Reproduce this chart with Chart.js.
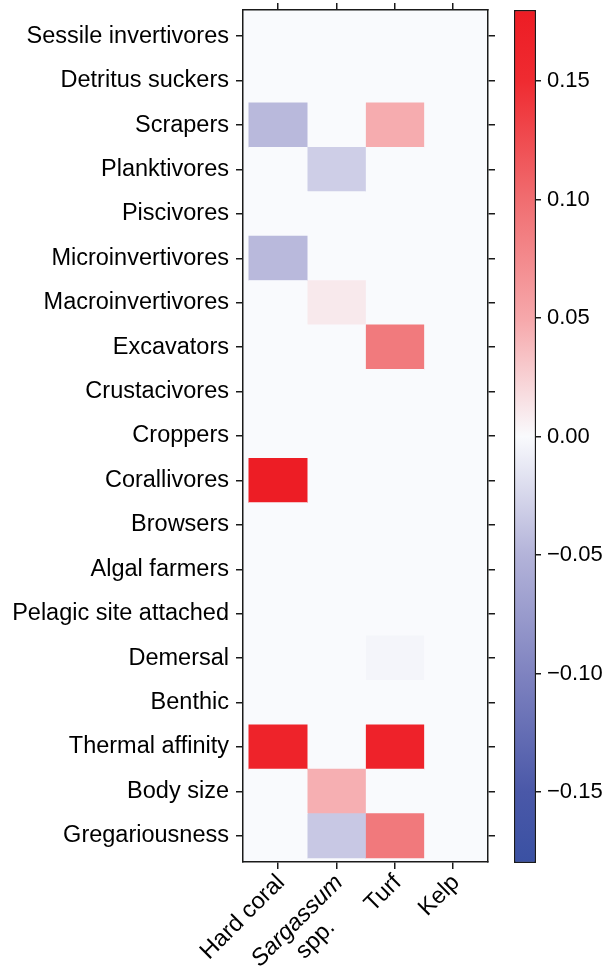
<!DOCTYPE html>
<html><head><meta charset="utf-8">
<script src="https://cdn.jsdelivr.net/npm/chart.js@4.4.1/dist/chart.umd.min.js"></script>
<style>
html,body{margin:0;padding:0;background:#fff;}
#wrap{position:relative;width:608px;height:968px;}
#wrap canvas{position:absolute;left:0;top:0;}
</style></head><body>
<div id="wrap"><canvas id="heat" width="608" height="968"></canvas><canvas id="cbar" width="608" height="968"></canvas></div>
<script>
// ---------- data ----------
const rowLabels = ['Sessile invertivores','Detritus suckers','Scrapers','Planktivores','Piscivores',
  'Microinvertivores','Macroinvertivores','Excavators','Crustacivores','Croppers','Corallivores',
  'Browsers','Algal farmers','Pelagic site attached','Demersal','Benthic','Thermal affinity',
  'Body size','Gregariousness'];
const columnLabels = [['Hard coral'], ['Sargassum','spp.'], ['Turf'], ['Kelp']];
const hardCoral = [0,0,-0.046,0,0,-0.046,0,0,0,0,0.178,0,0,0,0,0,0.165,0,0];
const sargassum = [0,0,0,-0.031,0,0,0.010,0,0,0,0,0,0,0,0,0,0,0.045,-0.035];
const turf      = [0,0,0.047,0,0,0,0,0.089,0,0,0,0,0,0,-0.0035,0,0.167,0,0.090];
const kelp      = [0,0,0,0,0,0,0,0,0,0,0,0,0,0,0,0,0,0,0];
const colorbarTicks = [-0.15,-0.10,-0.05,0,0.05,0.10,0.15];
const colorLimits = [-0.18, 0.18];

// ---------- style ----------
const FONT = '"Liberation Sans", Arial, Helvetica, sans-serif';
const FS = 23.5;
const FS_CB = 22;
const LH = 26;
const TEXT = '#000';
const FRAME = '#1a1a1a';
const italicFirstLine = [false, true, false, false];
const CMAP = [
  [-0.18,[58,81,163]],[-0.15,[74,88,168]],[-0.10,[127,131,192]],[-0.05,[179,179,217]],
  [0,[249,250,253]],[0.05,[246,167,170]],[0.10,[240,109,112]],[0.15,[239,43,49]],[0.18,[237,28,36]]
];
function colorFor(v){
  if (v <= CMAP[0][0]) return 'rgb('+CMAP[0][1].join(',')+')';
  for (let i=1;i<CMAP.length;i++){
    if (v <= CMAP[i][0]){
      const [v0,c0]=CMAP[i-1],[v1,c1]=CMAP[i];
      const t=(v-v0)/(v1-v0);
      return 'rgb('+c0.map((c,k)=>Math.round(c+(c1[k]-c)*t)).join(',')+')';
    }
  }
  return 'rgb('+CMAP[CMAP.length-1][1].join(',')+')';
}
function tickSetter(values){ return (scale)=>{ scale.ticks = values.map(v=>({value:v})); }; }
function fitter(prop, size){
  return (s)=>{ s[prop] = size; s.paddingTop = 0; s.paddingBottom = 0; s.paddingLeft = 0; s.paddingRight = 0; };
}
const gridOpts = {drawOnChartArea:false, drawTicks:true, tickLength:7, color:FRAME, lineWidth:1.5, offset:false};
const borderOpts = {display:true, color:FRAME, width:1.5};
const colCenters = columnLabels.map((_, i)=> i+0.5);
const rowIdx = rowLabels.map((_, i)=> i);
const columns = [hardCoral, sargassum, turf, kelp];

const bgPlugin = {
  id:'bg',
  beforeDraw(chart){
    const {ctx, chartArea:a} = chart;
    ctx.save(); ctx.fillStyle = colorFor(0);
    ctx.fillRect(a.left, a.top, a.right-a.left, a.bottom-a.top);
    ctx.restore();
  }
};
const xLabelPlugin = {
  id:'xLabels',
  afterDraw(chart){
    const ctx = chart.ctx, xs = chart.scales.x;
    const baseY = chart.chartArea.bottom + 17;
    columnLabels.forEach((lines, i) => {
      const px = xs.getPixelForValue(colCenters[i]);
      ctx.save();
      ctx.translate(px + 3, baseY);
      ctx.rotate(-Math.PI/4);
      ctx.textBaseline = 'middle'; ctx.fillStyle = TEXT; ctx.textAlign = 'center';
      const fonts = lines.map((t,j)=> (italicFirstLine[i] && j===0 ? 'italic ' : '') + FS + 'px ' + FONT);
      let W = 0;
      lines.forEach((t,j)=>{ ctx.font = fonts[j]; W = Math.max(W, ctx.measureText(t).width); });
      lines.forEach((t,j)=>{ ctx.font = fonts[j]; ctx.fillText(t, -W/2, j*LH); });
      ctx.restore();
    });
  }
};

new Chart(document.getElementById('heat'), {
  type:'bar',
  data:{
    datasets: columns.map((vals, c) => ({
      label: columnLabels[c].join(' '),
      data: vals.map((v, r) => ({y:r, x:[c, c+1]})),
      backgroundColor: vals.map(colorFor),
      borderWidth:0, barPercentage:1, categoryPercentage:1, grouped:false,
      xAxisID:'x', yAxisID:'y'
    }))
  },
  options:{
    indexAxis:'y', responsive:false, animation:false,
    layout:{padding:0},
    plugins:{legend:{display:false}, tooltip:{enabled:false}},
    scales:{
      x:{type:'linear', position:'bottom', offset:false, min:-0.1, max:4.1, afterBuildTicks:tickSetter(colCenters),
         afterFit:fitter('height',106), grid:gridOpts, border:borderOpts, ticks:{display:false}},
      x2:{type:'linear', position:'top', offset:false, min:-0.1, max:4.1, afterBuildTicks:tickSetter(colCenters),
         afterFit:fitter('height',10), grid:gridOpts, border:borderOpts, ticks:{display:false}},
      y:{type:'linear', position:'left', offset:false, reverse:true, min:-0.59, max:18.59, afterBuildTicks:tickSetter(rowIdx),
         afterFit:fitter('width',243), grid:gridOpts, border:borderOpts,
         ticks:{autoSkip:false, padding:7, color:TEXT, font:{family:FONT, size:FS}, callback:v=>rowLabels[v]}},
      y2:{type:'linear', position:'right', offset:false, reverse:true, min:-0.59, max:18.59, afterBuildTicks:tickSetter(rowIdx),
         afterFit:fitter('width',120), grid:gridOpts, border:borderOpts, ticks:{display:false}}
    }
  },
  plugins:[bgPlugin, xLabelPlugin]
});

function gradientFill(ctx){
  const chart = ctx.chart;
  if (!chart.chartArea) return colorFor(0);
  const ys = chart.scales.y;
  const y0 = ys.getPixelForValue(colorLimits[0]), y1 = ys.getPixelForValue(colorLimits[1]);
  const g = chart.ctx.createLinearGradient(0, y0, 0, y1);
  CMAP.forEach(([v]) => g.addColorStop((v-colorLimits[0])/(colorLimits[1]-colorLimits[0]), colorFor(v)));
  return g;
}
function fmt(v){ const s = Math.abs(v).toFixed(2); return (v < -1e-9 ? '\u2212' : '') + s; }

new Chart(document.getElementById('cbar'), {
  type:'bar',
  data:{labels:['colour scale'], datasets:[{data:[colorLimits.slice()], backgroundColor:gradientFill,
    borderColor:FRAME, borderWidth:1.5, borderSkipped:false, barPercentage:1, categoryPercentage:1}]},
  options:{
    responsive:false, animation:false,
    layout:{padding:{left:514, top:10, bottom:105, right:0}},
    plugins:{legend:{display:false}, tooltip:{enabled:false}},
    scales:{
      x:{display:false},
      y:{position:'right', min:colorLimits[0], max:colorLimits[1], afterBuildTicks:tickSetter(colorbarTicks),
         afterFit:fitter('width',72), grid:{drawOnChartArea:false, drawTicks:true, tickLength:5, color:FRAME, lineWidth:1.5},
         border:{display:false},
         ticks:{padding:6, color:TEXT, font:{family:FONT, size:FS_CB}, callback:fmt}}
    }
  }
});
</script>
</body></html>
